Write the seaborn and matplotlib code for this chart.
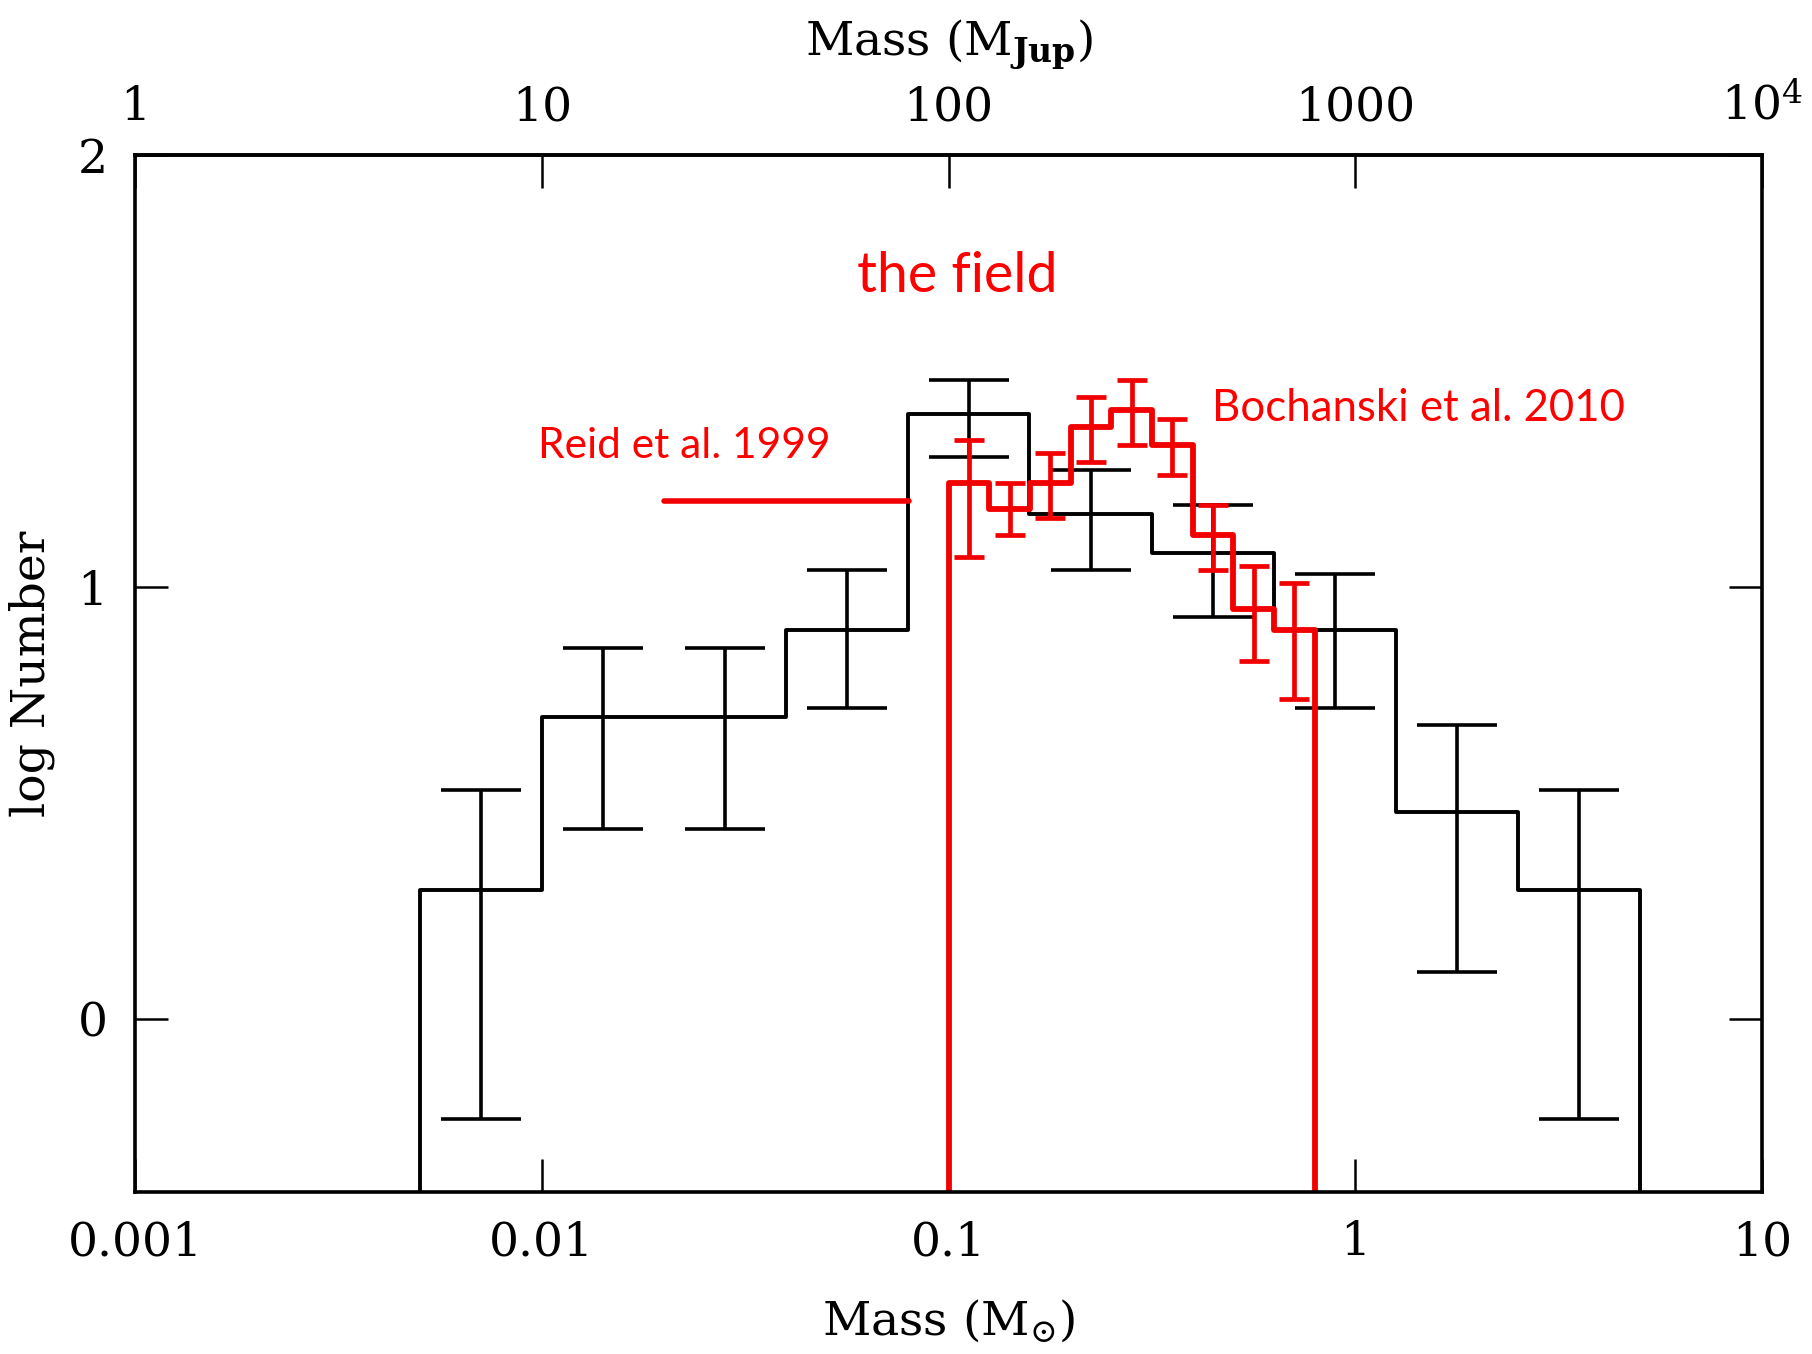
import numpy as np
import pandas as pd
import seaborn as sns
import matplotlib
matplotlib.use('Agg')
from matplotlib import pyplot as plt

# black: field mass function, 0.3 dex bins (Msun)
field_edges = [0.00501, 0.01, 0.01995, 0.0398, 0.0794, 0.158, 0.316, 0.631, 1.259, 2.512, 5.012]
field_centers = [0.00708, 0.0141, 0.0282, 0.0562, 0.112, 0.224, 0.447, 0.891, 1.778, 3.548]
field_logn = [0.30, 0.70, 0.70, 0.90, 1.40, 1.17, 1.08, 0.90, 0.48, 0.30]
field_hi = [0.53, 0.86, 0.86, 1.04, 1.48, 1.27, 1.19, 1.03, 0.68, 0.53]
field_lo = [-0.23, 0.44, 0.44, 0.72, 1.30, 1.04, 0.93, 0.72, 0.11, -0.23]

# red: Bochanski et al. 2010, 0.1 dex bins
boch_edges = [0.1, 0.1259, 0.1585, 0.1995, 0.2512, 0.3162, 0.3981, 0.5012, 0.631, 0.7943]
boch_centers = [0.1122, 0.1413, 0.1778, 0.2239, 0.2818, 0.3548, 0.4467, 0.5623, 0.7079]
boch_logn = [1.24, 1.18, 1.24, 1.37, 1.41, 1.33, 1.12, 0.95, 0.90]
boch_hi = [1.34, 1.24, 1.31, 1.44, 1.48, 1.39, 1.19, 1.05, 1.01]
boch_lo = [1.07, 1.12, 1.16, 1.29, 1.33, 1.26, 1.04, 0.83, 0.74]

# red: Reid et al. 1999 level
reid_mass = [0.02, 0.08]
reid_logn = [1.20, 1.20]

x_ticks = [0.001, 0.01, 0.1, 1, 10]
x_labels = ['0.001', '0.01', '0.1', '1', '10']
top_ticks = [1, 10, 100, 1000, 1e4]
top_labels = ['1', '10', '100', '1000', r'10$^4$']
y_ticks = [0, 1, 2]


def steps(edges, vals, floor=-1.0):
    # closed histogram outline that drops below the axis at both ends
    x = [edges[0]] + list(edges[:-1]) + [edges[-1], edges[-1]]
    y = [floor] + list(vals) + [vals[-1], floor]
    return pd.DataFrame({'mass': x, 'logn': y})


sns.set_style('ticks')
plt.rcParams['font.family'] = ['DejaVu Serif']
plt.rcParams['mathtext.fontset'] = 'dejavuserif'
plt.rcParams.update({'text.color': 'black', 'axes.labelcolor': 'black',
                     'xtick.color': 'black', 'ytick.color': 'black'})

fig = plt.figure(figsize=(18.12, 13.54), dpi=100)
ax = fig.add_axes([0.0746, 0.1196, 0.8979, 0.7659])
ax.set_xscale('log')

black = '#000000'
red = '#f20000'

sns.lineplot(data=steps(field_edges, field_logn), x='mass', y='logn', ax=ax,
             estimator=None, sort=False, drawstyle='steps-post', color=black, lw=2.8)
ax.errorbar(field_centers, field_logn,
            yerr=[np.subtract(field_logn, field_lo), np.subtract(field_hi, field_logn)],
            fmt='none', ecolor=black, elinewidth=2.6, capsize=29, capthick=2.6)

sns.lineplot(data=steps(boch_edges, boch_logn), x='mass', y='logn', ax=ax,
             estimator=None, sort=False, drawstyle='steps-post', color=red, lw=4.2)
ax.errorbar(boch_centers, boch_logn,
            yerr=[np.subtract(boch_logn, boch_lo), np.subtract(boch_hi, boch_logn)],
            fmt='none', ecolor=red, elinewidth=3.4, capsize=11, capthick=3.4)
sns.lineplot(x=reid_mass, y=reid_logn, ax=ax, color=red, lw=4.0)

ax.set_xlim(0.001, 10)
ax.set_ylim(-0.4, 2)
ax.set_xticks(x_ticks)
ax.set_xticklabels(x_labels)
ax.set_yticks(y_ticks)
ax.minorticks_off()
ax.tick_params(which='major', direction='in', length=24, width=1.8, labelsize=34,
               top=False, right=True, pad=20, colors='black')
for s in ax.spines.values():
    s.set_linewidth(2.6)
    s.set_color('black')

top = ax.secondary_xaxis('top', functions=(lambda m: m * 1000.0, lambda m: m / 1000.0))
top.set_xticks(top_ticks)
top.set_xticklabels(top_labels)
top.minorticks_off()
top.tick_params(direction='in', length=24, width=1.8, labelsize=34, pad=18, colors='black')
top.spines['top'].set_linewidth(2.6)
top.spines['top'].set_color('black')
top.set_xlabel(r'Mass (M$_{\mathbf{Jup}}$)', fontsize=34, labelpad=20, color='black')

ax.set_xlabel(r'Mass (M$_{\odot}$)', fontsize=34, labelpad=24, color='black')
ax.set_ylabel('log Number', fontsize=34, labelpad=16, color='black')

ax.text(0.105, 1.683, 'the field', color='#ff0000', fontsize=40, family='Lato',
        ha='center', va='baseline')
ax.text(0.00977, 1.298, 'Reid et al. 1999', color='#ff0000', fontsize=30.5, family='Lato',
        ha='left', va='baseline')
ax.text(0.444, 1.385, 'Bochanski et al. 2010', color='#ff0000', fontsize=31.5, family='Lato',
        ha='left', va='baseline')

plt.savefig('out.png', dpi=100)
